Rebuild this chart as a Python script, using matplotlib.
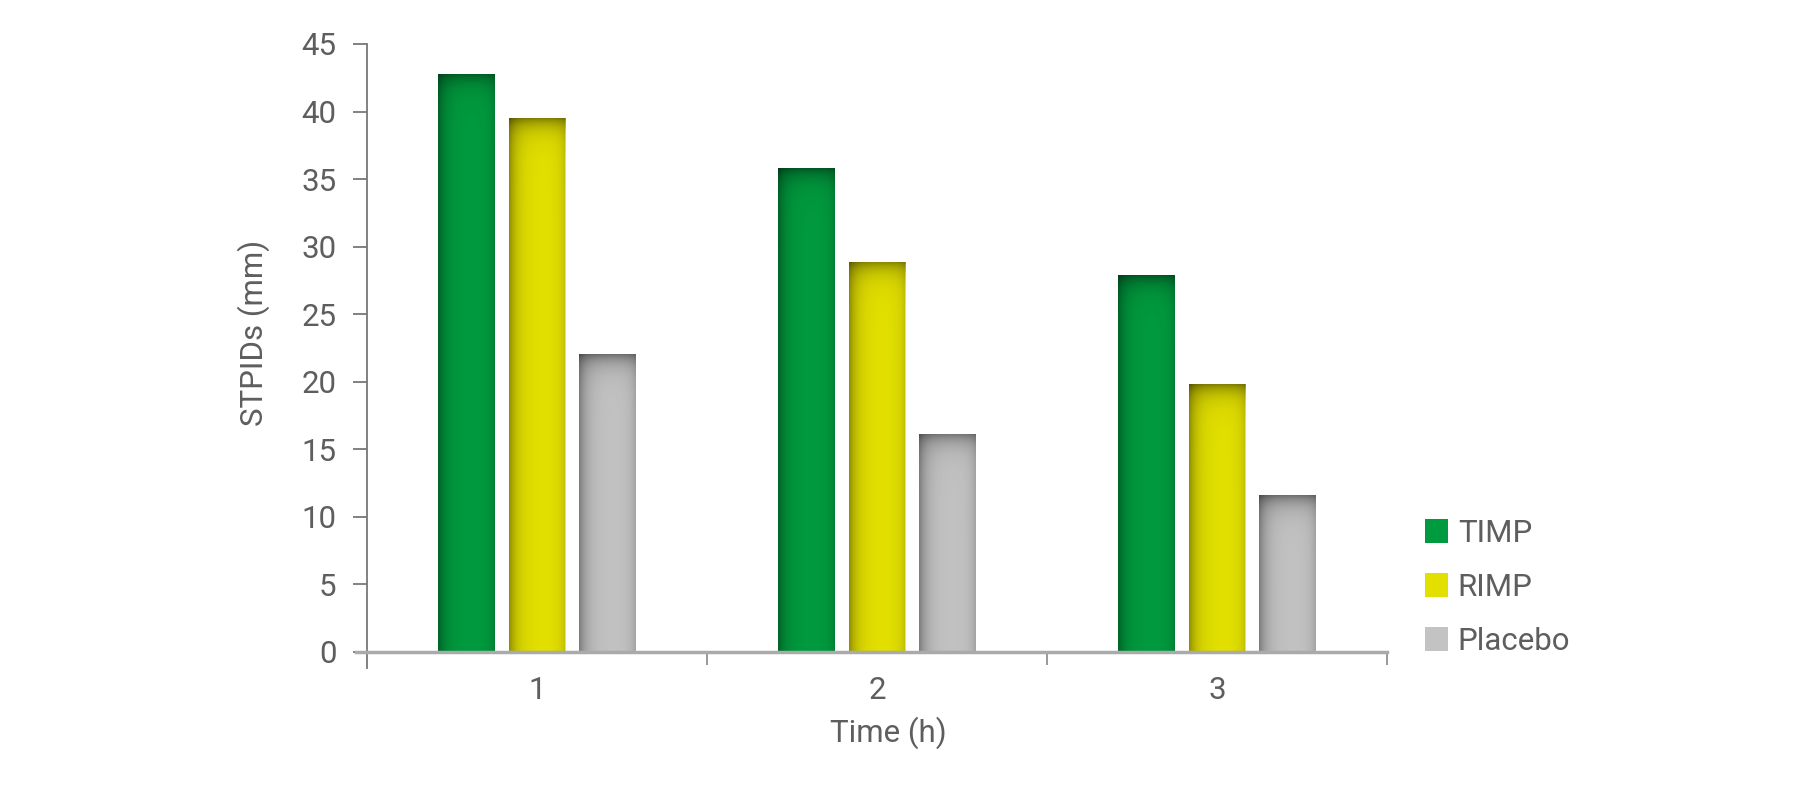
import numpy as np
import matplotlib
matplotlib.use('Agg')
import matplotlib.pyplot as plt

# values
times = ['1', '2', '3']
series = ['TIMP', 'RIMP', 'Placebo']
timp = [42.8, 35.8, 27.9]
rimp = [39.5, 28.9, 19.8]
placebo = [22.05, 16.15, 11.6]
bar_colors = ['#009b3e', '#e3e000', '#c3c3c3']

plt.rcParams['font.family'] = ['Roboto', 'DejaVu Sans']
plt.rcParams['font.weight'] = 'normal'
text_color = '#5e5e5e'
fs = 22.5

W, H = 1817, 796
fig = plt.figure(figsize=(W / 100, H / 100), dpi=100)
ax = fig.add_axes([367 / W, 1 - 668 / H, 1020 / W, 624 / H])

x = np.arange(len(times))
width = 0.167
step = 0.208
bars = []
for i, (vals, name, col) in enumerate(zip([timp, rimp, placebo], series, bar_colors)):
    b = ax.bar(x + (i - 1) * step, vals, width, color=col, label=name, zorder=1)
    bars.append(b)

ax.set_xlim(-0.5, 2.5)
ax.set_ylim(-16 / 13.5, 45)


#shading on each bar: dark top band and darker side edges
def shade(patch):
    x0, y0 = patch.get_x(), patch.get_y()
    w, h = patch.get_width(), patch.get_height()
    p0 = ax.transData.transform((x0, y0))
    p1 = ax.transData.transform((x0 + w, y0 + h))
    npx_w = max(int(round(p1[0] - p0[0])), 2)
    npx_h = max(int(round(p1[1] - p0[1])), 2)
    dy = np.arange(npx_h)[:, None]
    dx = np.arange(npx_w)[None, :]
    a_top = 0.42 * np.exp(-dy / 10.0)
    a_left = 0.36 * np.exp(-dx / 8.0)
    a_right = 0.16 * np.exp(-(npx_w - 1 - dx) / 6.0)
    alpha = 1 - (1 - a_top) * (1 - a_left) * (1 - a_right)
    img = np.zeros((npx_h, npx_w, 4))
    img[..., 3] = alpha
    im = ax.imshow(img, extent=(x0, x0 + w, y0, y0 + h), aspect='auto',
                   interpolation='bilinear', origin='upper', zorder=1.5)
    im.set_clip_path(patch)


for b in bars:
    for patch in b.patches:
        shade(patch)
ax.set_xlim(-0.5, 2.5)
ax.set_ylim(-16 / 13.5, 45)

for s in ['top', 'right']:
    ax.spines[s].set_visible(False)
ax.spines['left'].set_color('#777777')
ax.spines['left'].set_linewidth(1.3)
ax.spines['bottom'].set_position(('data', 0))
ax.spines['bottom'].set_bounds(-0.5 - 11 / 340, 2.5)
ax.spines['bottom'].set_color('#aaaaaa')
ax.spines['bottom'].set_linewidth(2.5)

ax.set_yticks(range(0, 46, 5))
ax.tick_params(axis='y', direction='out', length=10, width=1.3, color='#777777',
               pad=12, labelsize=fs, labelcolor=text_color)
ax.set_xticks(x)
ax.set_xticklabels(times)
ax.set_xticks([0.5, 1.5, 2.5], minor=True)
ax.tick_params(axis='x', which='major', length=0, pad=17, labelsize=fs, labelcolor=text_color)
ax.tick_params(axis='x', which='minor', direction='out', length=9.4, width=1.2, color='#888888')

ax.set_xlabel('Time (h)', fontsize=fs, color=text_color, va='center')
ax.xaxis.set_label_coords((888 - 367) / 1020, (668 - 733) / 624)
ax.set_ylabel('STPIDs (mm)', fontsize=fs, color=text_color, va='center')
ax.yaxis.set_label_coords((254 - 367) / 1020, (668 - 333) / 624)

fig.legend(loc='upper left', bbox_to_anchor=(1425 / W, 1 - 519 / H), frameon=False,
           fontsize=fs, handlelength=0.72, handleheight=0.8, handletextpad=0.33,
           labelspacing=0.8, borderpad=0, borderaxespad=0, labelcolor=text_color)

fig.savefig('out.png', dpi=100, facecolor='white')
